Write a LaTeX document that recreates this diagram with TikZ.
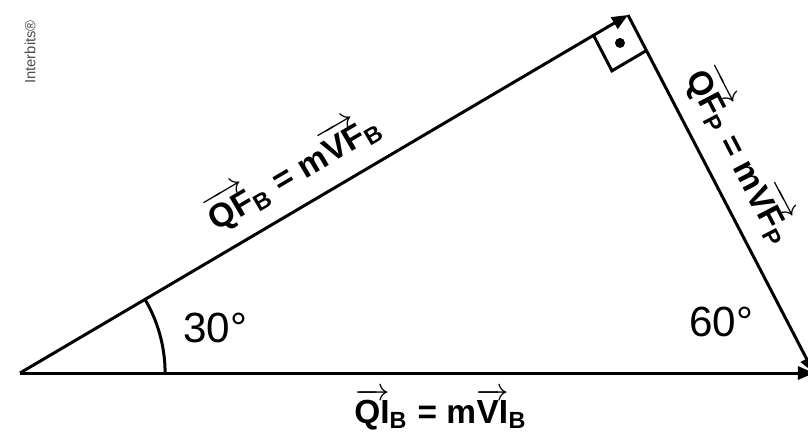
\documentclass[tikz,border=0pt]{standalone}
\usepackage{amsmath}
\usepackage{fontspec}
\setmainfont{Liberation Sans}
\usetikzlibrary{arrows.meta, angles, calc}

\newcommand{\vecarr}[1]{$\overrightarrow{\text{#1}}$}

\begin{document}
\begin{tikzpicture}[
    x=0.01cm, y=-0.01cm,
    vec/.style={-{Triangle[length=0.16cm, width=0.13cm]}, line width=0.85pt},
    lbl/.style={font=\fontsize{9.5}{11}\selectfont\bfseries, inner sep=1pt},
    ang/.style={font=\fontsize{12}{14}\selectfont, inner sep=0pt}
]
\useasboundingbox (0,0) rectangle (808,438);

\coordinate (A) at (20,373);
\coordinate (T) at (628,15);
\coordinate (R) at (814,373);

\draw[vec] (A) -- node[lbl, sloped, above=3pt, pos=0.48] (fb) {\vecarr{QF}$_{\text{B}}$ = m\vecarr{VF}$_{\text{B}}$} (T);
\draw[vec] (T) -- node[lbl, sloped, above=3pt, pos=0.44] (fp) {\vecarr{QF}$_{\text{P}}$ = m\vecarr{VF}$_{\text{P}}$} (R);
\draw[vec] (A) -- node[lbl, below=3pt, pos=0.53] (ib) {\vecarr{QI}$_{\text{B}}$ = m\vecarr{VI}$_{\text{B}}$} (R);

% right angle mark
\coordinate (ra1) at ($(T)!0.4cm!(A)$);
\coordinate (ra2) at ($(T)!0.4cm!(R)$);
\coordinate (ra3) at ($(ra1)+(ra2)-(T)$);
\draw[line width=0.85pt] (ra1) -- (ra3) -- (ra2);
\fill ($(T)!0.5!(ra3)$) circle[radius=0.05cm];

\pic[draw, line width=0.85pt, angle radius=1.45cm] {angle=R--A--T};
\node[ang] (a30) at (215,328) {30°};
\node[ang] (a60) at (721,322) {60°};

\node[rotate=90, text=black!70, font=\fontsize{4.2}{5}\selectfont, inner sep=0pt] (brand) at (30,52) {Interbits®};
\end{tikzpicture}
\end{document}
